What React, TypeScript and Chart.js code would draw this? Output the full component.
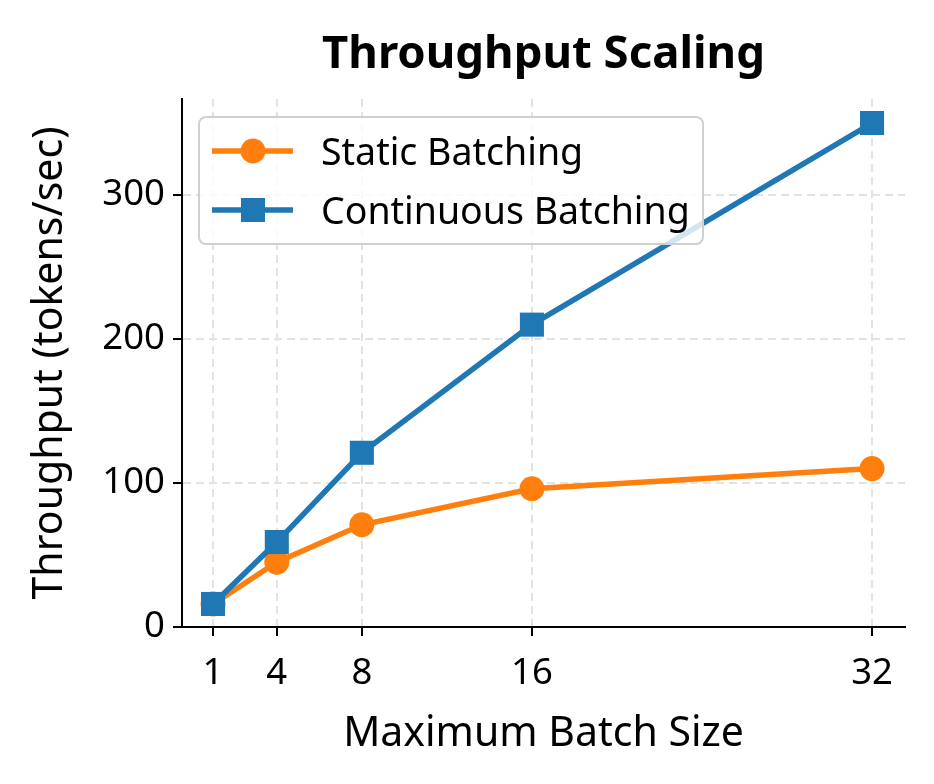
import React, { useEffect, useRef } from "react";
import { Chart, registerables } from "chart.js";

Chart.register(...registerables);

// Batch sizes on the x axis and measured throughput (tokens/sec)
const batchSizes = [1, 4, 8, 16, 32];
const staticThroughput = [16, 45, 71, 96, 110];
const continuousThroughput = [16, 59, 121, 210, 350];
const yTickValues = [0, 100, 200, 300];

const seriesLabels = ["Static Batching", "Continuous Batching"];
const chartTitle = "Throughput Scaling";
const xTitle = "Maximum Batch Size";
const yTitle = "Throughput (tokens/sec)";

const ORANGE = "#ff7f0e";
const BLUE = "#1f77b4";
const FONT = "'Noto Sans', 'DejaVu Sans', sans-serif";

const decorations = {
  id: "decorations",
  afterDraw(chart: any) {
    const { ctx, chartArea } = chart;
    const cx = (chartArea.left + chartArea.right) / 2;
    ctx.save();
    ctx.fillStyle = "#000";
    ctx.textAlign = "center";
    ctx.textBaseline = "alphabetic";

    // title
    ctx.font = `bold 45.5px ${FONT}`;
    ctx.fillText(chartTitle, cx, 68);

    // axis titles
    ctx.font = `41px ${FONT}`;
    ctx.fillText(xTitle, cx, 746);
    ctx.save();
    ctx.translate(62, (chartArea.top + chartArea.bottom) / 2);
    ctx.rotate(-Math.PI / 2);
    ctx.fillText(yTitle, 0, 0);
    ctx.restore();

    // legend
    const bx = 199, by = 117, bw = 504, bh = 127;
    ctx.beginPath();
    ctx.roundRect(bx, by, bw, bh, 7);
    ctx.fillStyle = "rgba(255,255,255,0.8)";
    ctx.fill();
    ctx.lineWidth = 2;
    ctx.strokeStyle = "#d0d0d0";
    ctx.stroke();

    const rows = [
      { label: seriesLabels[0], color: ORANGE, shape: "circle", y: 151 },
      { label: seriesLabels[1], color: BLUE, shape: "square", y: 210 },
    ];
    for (const r of rows) {
      ctx.strokeStyle = r.color;
      ctx.fillStyle = r.color;
      ctx.lineWidth = 5.5;
      ctx.beginPath();
      ctx.moveTo(212, r.y);
      ctx.lineTo(293, r.y);
      ctx.stroke();
      if (r.shape === "circle") {
        ctx.beginPath();
        ctx.arc(253, r.y, 12.5, 0, Math.PI * 2);
        ctx.fill();
      } else {
        ctx.fillRect(253 - 12, r.y - 12, 24, 24);
      }
      ctx.fillStyle = "#000";
      ctx.textAlign = "left";
      ctx.font = `37.5px ${FONT}`;
      ctx.fillText(r.label, 321, r.y + 13.5);
    }
    ctx.restore();
  },
};

export default function App() {
  const ref = useRef<HTMLCanvasElement>(null);

  useEffect(() => {
    document.body.style.margin = "0";
    const gridCommon = {
      color: "#e3e3e3",
      lineWidth: 2,
      tickColor: "#000",
      tickWidth: 2,
      tickLength: 9,
      tickBorderDash: [],
    };
    const tickFont = { family: FONT, size: 36.5 };
    const chart = new Chart(ref.current!, {
      type: "line",
      data: {
        datasets: [
          {
            label: seriesLabels[0],
            data: batchSizes.map((x, i) => ({ x, y: staticThroughput[i] })),
            borderColor: ORANGE,
            backgroundColor: ORANGE,
            borderWidth: 5.5,
            pointStyle: "circle",
            pointRadius: 12.5,
            pointBorderWidth: 0,
            order: 1,
          },
          {
            label: seriesLabels[1],
            data: batchSizes.map((x, i) => ({ x, y: continuousThroughput[i] })),
            borderColor: BLUE,
            backgroundColor: BLUE,
            borderWidth: 5.5,
            pointStyle: "rect",
            pointRadius: 17,
            pointBorderWidth: 0,
            order: 0,
          },
        ],
      },
      options: {
        animation: false,
        responsive: false,
        layout: { padding: { top: 99, right: 29, left: 0, bottom: 0 } },
        plugins: { legend: { display: false }, tooltip: { enabled: false }, title: { display: false } },
        scales: {
          x: {
            type: "linear",
            min: -0.46,
            max: 33.55,
            afterBuildTicks: (s: any) => {
              s.ticks = batchSizes.map((v) => ({ value: v }));
            },
            afterFit: (s: any) => {
              s.height = 157;
            },
            grid: gridCommon,
            border: { display: true, color: "#000", width: 2, dash: [8, 5] },
            ticks: { color: "#000", font: tickFont, padding: 16, maxRotation: 0, autoSkip: false },
          },
          y: {
            type: "linear",
            min: 0,
            max: 366.7,
            afterBuildTicks: (s: any) => {
              s.ticks = yTickValues.map((v) => ({ value: v }));
            },
            afterFit: (s: any) => {
              s.width = 182;
            },
            grid: gridCommon,
            border: { display: true, color: "#000", width: 2, dash: [8, 5] },
            ticks: { color: "#000", font: tickFont, padding: 8 },
          },
        },
      },
      plugins: [decorations],
    } as any);
    return () => chart.destroy();
  }, []);

  return (
    <div style={{ width: 934, height: 784, background: "#fff" }}>
      <canvas ref={ref} width={934} height={784} style={{ display: "block" }} />
    </div>
  );
}
